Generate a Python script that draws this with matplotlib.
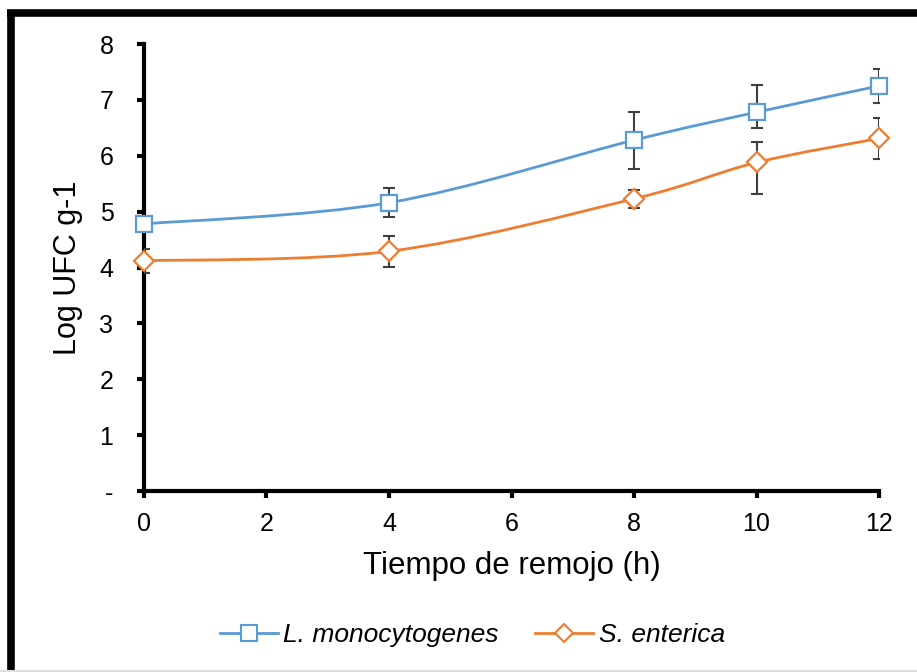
import matplotlib.pyplot as plt
import numpy as np
from matplotlib.path import Path
from matplotlib.patches import PathPatch
from matplotlib.lines import Line2D

plt.rcParams['font.family'] = ['Liberation Sans', 'DejaVu Sans']

# data
tiempo = [0, 4, 8, 10, 12]
listeria = [4.78, 5.16, 6.28, 6.78, 7.25]
listeria_err_low = [0.08, 0.26, 0.51, 0.29, 0.31]
listeria_err_up = [0.08, 0.26, 0.51, 0.49, 0.31]
salmonella = [4.12, 4.29, 5.23, 5.88, 6.31]
salmonella_err_low = [0.22, 0.28, 0.16, 0.56, 0.37]
salmonella_err_up = [0.22, 0.28, 0.16, 0.37, 0.37]
series_names = ['L. monocytogenes', 'S. enterica']
y_ticklabels = ['-', '1', '2', '3', '4', '5', '6', '7', '8']

blue = '#5B9BD5'
orange = '#ED7D31'


def smooth_path(x, y):
    # excel-like smoothed line (catmull-rom as bezier segments)
    pts = np.column_stack([x, y]).astype(float)
    verts = [pts[0]]
    codes = [Path.MOVETO]
    n = len(pts)
    for i in range(n - 1):
        p0 = pts[i - 1] if i > 0 else pts[i]
        p1 = pts[i]
        p2 = pts[i + 1]
        p3 = pts[i + 2] if i + 2 < n else pts[i + 1]
        c1 = p1 + (p2 - p0) / 6.0
        c2 = p2 - (p3 - p1) / 6.0
        verts += [c1, c2, p2]
        codes += [Path.CURVE4] * 3
    return Path(verts, codes)


fig = plt.figure(figsize=(9.17, 6.72), dpi=100)
ax = fig.add_axes([0.157, 0.2693, 0.8016, 0.6652])

series = [(listeria, listeria_err_low, listeria_err_up, blue, 's'),
          (salmonella, salmonella_err_low, salmonella_err_up, orange, 'D')]
for vals, lo, up, col, mk in series:
    ax.add_patch(PathPatch(smooth_path(tiempo, vals), fill=False, edgecolor=col,
                           lw=2.0, zorder=2))
    eb = ax.errorbar(tiempo, vals, yerr=[lo, up], fmt='none', ecolor='#404040',
                     elinewidth=1.5, capsize=4, capthick=1.5, zorder=3)
    for cap in eb[1]:
        cap.set_clip_on(True)
    ax.plot(tiempo, vals, linestyle='none', marker=mk, ms=12 if mk == 's' else 10,
            mfc='white', mec=col, mew=1.6, zorder=4, clip_on=False)

ax.set_xlim(0, 12)
ax.set_ylim(0, 8)
ax.set_xticks(range(0, 13, 2))
ax.set_yticks(range(0, 9))
ax.set_yticklabels(y_ticklabels)

for s in ['top', 'right']:
    ax.spines[s].set_visible(False)
for s in ['left', 'bottom']:
    ax.spines[s].set_linewidth(3.0)
ax.tick_params(axis='both', direction='out', width=3.0, length=5, labelsize=18)
ax.tick_params(axis='y', pad=17)
ax.tick_params(axis='x', pad=10)

ax.set_ylabel('Log UFC g-1', fontsize=22, labelpad=12)
ax.set_xlabel('Tiempo de remojo (h)', fontsize=22.5, labelpad=11)

handles = [Line2D([], [], color=blue, lw=2, marker='s', ms=11, mfc='white', mec=blue, mew=1.5),
           Line2D([], [], color=orange, lw=2, marker='D', ms=9, mfc='white', mec=orange, mew=1.5)]
leg = fig.legend(handles, series_names, loc='center', bbox_to_anchor=(0.515, 0.055),
                 ncol=2, frameon=False, handlelength=2.2, columnspacing=1.4,
                 handletextpad=0.2, prop={'size': 19, 'style': 'italic'})

# black frame around the figure
fig.add_artist(Line2D([0.0125, 0.0125], [0.0, 0.982], transform=fig.transFigure,
                      color='black', lw=5.5, solid_capstyle='butt'))
fig.add_artist(Line2D([0.008, 1.0], [0.98, 0.98], transform=fig.transFigure,
                      color='black', lw=5.5, solid_capstyle='butt'))
fig.add_artist(Line2D([0.0, 1.0], [0.002, 0.002], transform=fig.transFigure,
                      color='#dddddd', lw=1.5))

fig.savefig('out.png', dpi=100)
